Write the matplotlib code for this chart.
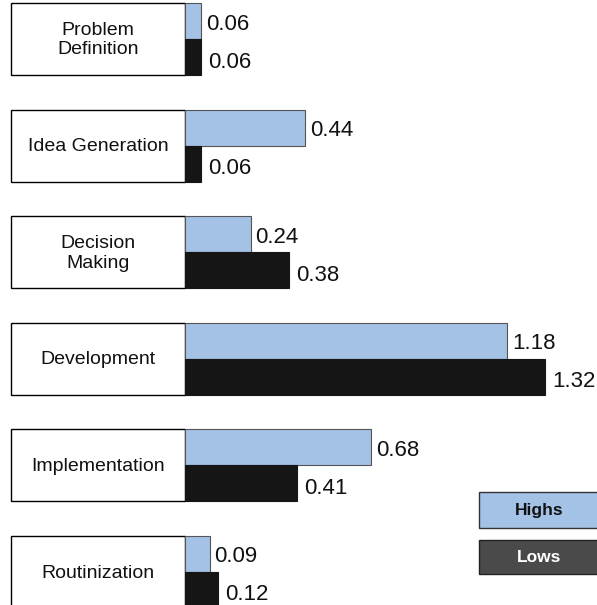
import matplotlib.pyplot as plt
from matplotlib.patches import Rectangle

categories = ["Problem\nDefinition", "Idea Generation", "Decision\nMaking",
              "Development", "Implementation", "Routinization"]
highs = [0.06, 0.44, 0.24, 1.18, 0.68, 0.09]
lows = [0.06, 0.06, 0.38, 1.32, 0.41, 0.12]

plt.rcParams['font.family'] = ['Liberation Sans', 'DejaVu Sans']

W, H = 597, 605
px = 273.0  # pixels per unit
fig = plt.figure(figsize=(W / 100, H / 100), dpi=100)
ax = fig.add_axes([0, 0, 1, 1])
ax.set_xlim(-185 / px, (W - 185) / px)
ax.set_ylim(H, 0)
ax.axis("off")

pitch = 106.6
bh = 36
for i, (cat, hi, lo) in enumerate(zip(categories, highs, lows)):
    top = 3 + pitch * i
    # label box
    ax.add_patch(Rectangle((-174 / px, top), 174 / px, 2 * bh, facecolor="white",
                           edgecolor="black", lw=1))
    ax.text(-87 / px, top + bh + 1, cat, ha="center", va="center", fontsize=14,
            linespacing=1.2, color="#111111")
    ax.barh(top + bh / 2, hi, height=bh, left=0, color="#a4c2e6",
            edgecolor="#555555", lw=0.8)
    ax.barh(top + bh * 1.5, lo, height=bh, left=0, color="#151515",
            edgecolor="#151515", lw=0.8)
    ax.text(hi + 5 / px, top + bh / 2 + 3, f"{hi:.2f}", ha="left", va="center",
            fontsize=16, color="#111111")
    ax.text(lo + 7 / px, top + bh * 1.5 + 5, f"{lo:.2f}", ha="left", va="center",
            fontsize=16, color="#111111")

# legend boxes
lx = 479 / px - 185 / px
lw_ = (W - 479) / px
ax.add_patch(Rectangle((lx, 492), lw_ + 0.1, 36, facecolor="#a4c2e6",
                       edgecolor="#333333", lw=1))
ax.text(lx + 60 / px, 511, "Highs", ha="center", va="center", fontsize=12.5,
        fontweight="bold", family=["Liberation Sans Narrow", "Liberation Sans"],
        color="#111111")
ax.add_patch(Rectangle((lx, 540), lw_ + 0.1, 34, facecolor="#4a4a4a",
                       edgecolor="#222222", lw=1))
ax.text(lx + 60 / px, 557, "Lows", ha="center", va="center", fontsize=12.5,
        fontweight="bold", family=["Liberation Sans Narrow", "Liberation Sans"],
        color="white")

fig.savefig("out.png", dpi=100)
